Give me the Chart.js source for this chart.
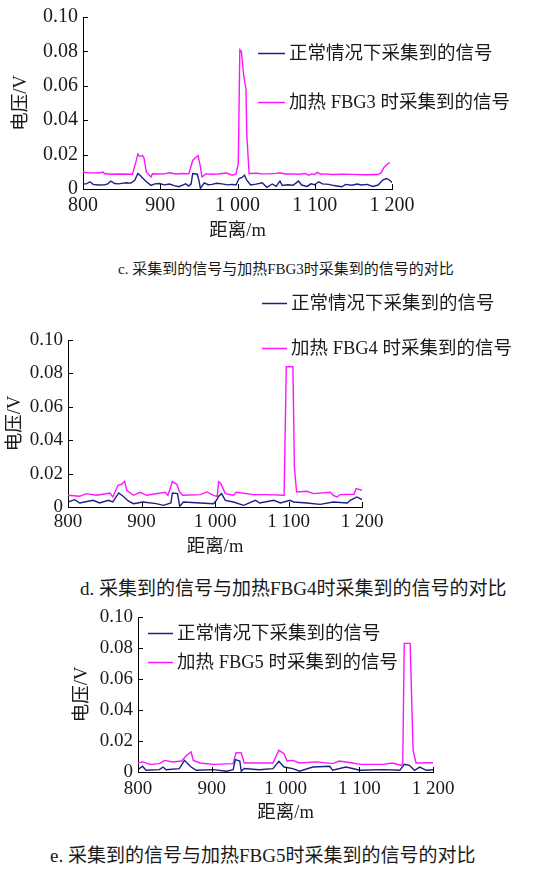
<!DOCTYPE html>
<html>
<head>
<meta charset="utf-8">
<script src="https://cdn.jsdelivr.net/npm/chart.js@4.4.1/dist/chart.umd.min.js"></script>
<style>
  body { margin: 0; background: #fff; }
  #page { position: relative; width: 558px; height: 870px; overflow: hidden; }
  canvas { position: absolute; left: 0; }
  .cap { position: absolute; white-space: nowrap; line-height: 1; color: #1a1a1a;
         font-family: 'Liberation Serif', 'Noto Sans CJK SC', serif; }
</style>
</head>
<body>
<div id="page">
  <canvas id="chartC" width="558" height="250" style="top:0px"></canvas>
  <canvas id="chartD" width="558" height="275" style="top:285px"></canvas>
  <canvas id="chartE" width="558" height="225" style="top:600px"></canvas>
  <div class="cap" style="left:118px; top:262px; font-size:15px">c. 采集到的信号与加热FBG3时采集到的信号的对比</div>
  <div class="cap" style="left:80px; top:579px; font-size:19px">d. 采集到的信号与加热FBG4时采集到的信号的对比</div>
  <div class="cap" style="left:50px; top:846px; font-size:19px">e. 采集到的信号与加热FBG5时采集到的信号的对比</div>
</div>
<script>
// 坐标轴刻度
const xTicks = [800, 900, 1000, 1100, 1200];
const xTickLabels = ['800', '900', '1 000', '1 100', '1 200'];
const yTickLabels = ['0', '0.02', '0.04', '0.06', '0.08', '0.10'];
const seriesNames = ['正常情况下采集到的信号', '加热 FBG3 时采集到的信号', '加热 FBG4 时采集到的信号', '加热 FBG5 时采集到的信号'];

// 图 c
const cNormDist = [800, 805, 809, 813, 820, 828, 832, 836, 841, 846, 850, 856, 862, 867, 871, 875, 882, 888, 893, 899, 905, 912, 918, 924, 929, 933, 937, 940, 942, 948, 950, 952, 957, 962, 967, 973, 980, 987, 993, 998, 1002, 1006, 1009, 1012, 1017, 1024, 1032, 1038, 1045, 1050, 1055, 1058, 1065, 1072, 1079, 1083, 1090, 1095, 1100, 1105, 1110, 1118, 1125, 1135, 1140, 1148, 1155, 1160, 1168, 1175, 1182, 1188, 1193, 1197, 1200];
const cNorm = [0.0029, 0.0031, 0.0042, 0.0027, 0.0023, 0.0024, 0.0030, 0.0046, 0.0032, 0.0030, 0.0033, 0.0036, 0.0034, 0.0051, 0.0090, 0.0074, 0.0042, 0.0021, 0.0030, 0.0032, 0.0024, 0.0029, 0.0020, 0.0013, 0.0023, 0.0030, 0.0017, 0.0030, 0.0090, 0.0086, 0.0051, 0.0004, 0.0036, 0.0025, 0.0027, 0.0033, 0.0030, 0.0024, 0.0027, 0.0023, 0.0061, 0.0067, 0.0080, 0.0051, 0.0023, 0.0028, 0.0036, 0.0010, 0.0029, 0.0015, 0.0046, 0.0020, 0.0025, 0.0022, 0.0046, 0.0023, 0.0015, 0.0030, 0.0025, 0.0042, 0.0030, 0.0027, 0.0020, 0.0013, 0.0027, 0.0022, 0.0029, 0.0023, 0.0027, 0.0015, 0.0023, 0.0052, 0.0061, 0.0051, 0.0038];
const cHeatDist = [800, 810, 821, 826, 828, 830, 834, 850, 864, 869, 871, 873, 877, 879, 882, 888, 890, 898, 905, 912, 920, 930, 937, 942, 946, 949, 952, 954, 959, 968, 975, 985, 990, 993, 998, 1001, 1003, 1005, 1008, 1011, 1012, 1015, 1025, 1030, 1040, 1050, 1055, 1062, 1070, 1080, 1088, 1092, 1096, 1100, 1103, 1108, 1115, 1122, 1135, 1150, 1165, 1182, 1186, 1190, 1197];
const cHeat = [0.0097, 0.0094, 0.0093, 0.0099, 0.0088, 0.0090, 0.0086, 0.0087, 0.0086, 0.0166, 0.0204, 0.0190, 0.0194, 0.0180, 0.0099, 0.0070, 0.0089, 0.0087, 0.0088, 0.0094, 0.0087, 0.0090, 0.0088, 0.0166, 0.0185, 0.0194, 0.0128, 0.0070, 0.0088, 0.0086, 0.0087, 0.0093, 0.0086, 0.0080, 0.0088, 0.0147, 0.0810, 0.0800, 0.0660, 0.0580, 0.0320, 0.0090, 0.0092, 0.0089, 0.0088, 0.0091, 0.0094, 0.0087, 0.0088, 0.0086, 0.0090, 0.0080, 0.0088, 0.0085, 0.0097, 0.0086, 0.0088, 0.0084, 0.0086, 0.0085, 0.0083, 0.0084, 0.0095, 0.0128, 0.0156];

// 图 d
const dNormDist = [800, 809, 816, 834, 843, 855, 861, 869, 875, 882, 889, 902, 920, 930, 940, 942, 949, 952, 957, 980, 998, 1002, 1005, 1009, 1014, 1025, 1039, 1055, 1061, 1080, 1089, 1102, 1107, 1125, 1143, 1161, 1180, 1184, 1193, 1200];
const dNorm = [0.0030, 0.0044, 0.0024, 0.0040, 0.0024, 0.0040, 0.0030, 0.0084, 0.0064, 0.0036, 0.0020, 0.0030, 0.0020, 0.0010, 0.0024, 0.0084, 0.0080, 0.0004, 0.0030, 0.0024, 0.0020, 0.0040, 0.0064, 0.0080, 0.0040, 0.0030, 0.0010, 0.0040, 0.0024, 0.0040, 0.0024, 0.0040, 0.0030, 0.0024, 0.0016, 0.0030, 0.0024, 0.0040, 0.0060, 0.0044];
const dHeatDist = [800, 816, 825, 839, 857, 861, 868, 873, 877, 880, 889, 898, 907, 932, 936, 942, 948, 952, 956, 980, 989, 998, 1003, 1005, 1008, 1011, 1014, 1025, 1029, 1052, 1070, 1094, 1097, 1106, 1108, 1111, 1125, 1134, 1157, 1161, 1166, 1170, 1189, 1192, 1200];
const dHeat = [0.0070, 0.0064, 0.0080, 0.0070, 0.0084, 0.0060, 0.0130, 0.0136, 0.0154, 0.0100, 0.0070, 0.0088, 0.0070, 0.0088, 0.0070, 0.0152, 0.0136, 0.0090, 0.0070, 0.0074, 0.0090, 0.0070, 0.0064, 0.0152, 0.0140, 0.0110, 0.0080, 0.0070, 0.0088, 0.0074, 0.0074, 0.0070, 0.0840, 0.0840, 0.0240, 0.0090, 0.0094, 0.0080, 0.0088, 0.0070, 0.0060, 0.0074, 0.0076, 0.0110, 0.0100];

// 图 e
const eNormDist = [800, 806, 811, 829, 834, 838, 856, 863, 872, 879, 902, 920, 929, 932, 938, 940, 944, 964, 983, 991, 998, 1010, 1019, 1037, 1060, 1064, 1082, 1101, 1132, 1155, 1161, 1168, 1175, 1182, 1191, 1200];
const eNorm = [0.0015, 0.0037, 0.0011, 0.0015, 0.0032, 0.0015, 0.0022, 0.0075, 0.0032, 0.0011, 0.0015, 0.0005, 0.0015, 0.0080, 0.0071, 0.0005, 0.0022, 0.0015, 0.0022, 0.0069, 0.0032, 0.0022, 0.0005, 0.0032, 0.0037, 0.0011, 0.0032, 0.0011, 0.0015, 0.0011, 0.0050, 0.0043, 0.0011, 0.0032, 0.0011, 0.0015];
const eHeatDist = [800, 807, 816, 829, 836, 847, 859, 866, 872, 875, 884, 902, 929, 933, 940, 944, 964, 983, 991, 998, 1002, 1010, 1019, 1042, 1064, 1073, 1091, 1101, 1132, 1145, 1157, 1159, 1161, 1169, 1173, 1177, 1200];
const eHeat = [0.0060, 0.0065, 0.0049, 0.0054, 0.0075, 0.0065, 0.0071, 0.0108, 0.0129, 0.0075, 0.0058, 0.0049, 0.0054, 0.0125, 0.0123, 0.0058, 0.0058, 0.0058, 0.0140, 0.0118, 0.0071, 0.0075, 0.0058, 0.0065, 0.0054, 0.0071, 0.0058, 0.0049, 0.0049, 0.0058, 0.0043, 0.0058, 0.0830, 0.0830, 0.0140, 0.0058, 0.0060];

const FONT = "'Liberation Serif', 'Noto Sans CJK SC', serif";
const TEXT = '#1a1a1a';
Chart.defaults.font.family = FONT;
Chart.defaults.color = TEXT;

const toPoints = (xs, ys) => xs.map((x, i) => ({ x: x, y: ys[i] }));

// 刻度线朝内
const innerTicks = {
  id: 'innerTicks',
  afterDraw(chart) {
    const { ctx, chartArea, scales } = chart;
    ctx.save();
    ctx.strokeStyle = '#000';
    ctx.lineWidth = 1;
    scales.x.ticks.forEach(t => {
      const px = Math.round(scales.x.getPixelForValue(t.value)) + 0.5;
      ctx.beginPath();
      ctx.moveTo(px, chartArea.bottom);
      ctx.lineTo(px, chartArea.bottom - 5);
      ctx.stroke();
    });
    scales.y.ticks.forEach(t => {
      const py = Math.round(scales.y.getPixelForValue(t.value)) + 0.5;
      ctx.beginPath();
      ctx.moveTo(chartArea.left, py);
      ctx.lineTo(chartArea.left + 5, py);
      ctx.stroke();
    });
    ctx.restore();
  }
};

// 图例（自由位置）
const freeLegend = {
  id: 'freeLegend',
  afterDraw(chart, args, opts) {
    const ctx = chart.ctx;
    ctx.save();
    ctx.font = opts.size + 'px ' + FONT;
    ctx.textBaseline = 'middle';
    chart.data.datasets.forEach((ds, i) => {
      const y = opts.y[i] + 0.5;
      ctx.strokeStyle = ds.borderColor;
      ctx.lineWidth = 1.5;
      ctx.beginPath();
      ctx.moveTo(opts.x, y);
      ctx.lineTo(opts.x + opts.len, y);
      ctx.stroke();
      ctx.fillStyle = TEXT;
      ctx.fillText(ds.label, opts.x + opts.len + 4, y + 1);
    });
    ctx.restore();
  }
};

function makeChart(id, normX, normY, heatX, heatY, heatName, lay) {
  return new Chart(document.getElementById(id), {
    type: 'line',
    data: {
      datasets: [
        { label: seriesNames[0], data: toPoints(normX, normY), borderColor: '#1b1f87', borderWidth: 1.4 },
        { label: heatName, data: toPoints(heatX, heatY), borderColor: '#ff14ff', borderWidth: 1.4 }
      ]
    },
    options: {
      responsive: false,
      animation: false,
      elements: { point: { radius: 0 }, line: { tension: 0 } },
      layout: { padding: lay.padding },
      plugins: {
        legend: { display: false },
        tooltip: { enabled: false },
        freeLegend: lay.legend
      },
      scales: {
        x: {
          type: 'linear', min: 800, max: 1200,
          afterFit: s => { s.height = lay.xh; },
          afterBuildTicks: s => { s.ticks = xTicks.map(v => ({ value: v })); },
          ticks: { padding: lay.xpad, font: { size: lay.tick }, color: TEXT, maxRotation: 0,
                   callback: v => xTickLabels[xTicks.indexOf(v)] },
          grid: { display: false, drawTicks: false },
          border: { display: true, color: '#000', width: 1 },
          title: { display: true, text: '距离/m', font: { size: 18.5 }, color: TEXT, padding: { top: 0, bottom: lay.xtitle } }
        },
        y: {
          min: 0, max: 0.1,
          afterFit: s => { s.width = lay.yw; },
          ticks: { stepSize: 0.02, padding: 5, font: { size: lay.tick }, color: TEXT,
                   callback: (v, i) => yTickLabels[i] },
          grid: { display: false, drawTicks: false },
          border: { display: true, color: '#000', width: 1 },
          title: { display: true, text: '电压/V', font: { size: 18.5 }, color: TEXT, padding: { top: lay.ytitle, bottom: 0 } }
        }
      }
    },
    plugins: [innerTicks, freeLegend]
  });
}

makeChart('chartC', cNormDist, cNorm, cHeatDist, cHeat, seriesNames[1], {
  padding: { left: 0, top: 13, right: 166, bottom: 0 },
  xh: 61, yw: 83, xpad: 5, xtitle: 8, ytitle: 10, tick: 20,
  legend: { x: 258, y: [53, 102], len: 27, size: 18.5 }
});

makeChart('chartD', dNormDist, dNorm, dHeatDist, dHeat, seriesNames[2], {
  padding: { left: 0, top: 55, right: 196, bottom: 0 },
  xh: 53, yw: 68, xpad: 4, xtitle: 2, ytitle: 4, tick: 19,
  legend: { x: 262, y: [18, 63], len: 25, size: 18.5 }
});

makeChart('chartE', eNormDist, eNorm, eHeatDist, eHeat, seriesNames[3], {
  padding: { left: 60, top: 17, right: 125, bottom: 0 },
  xh: 53, yw: 78, xpad: 6, xtitle: 1, ytitle: 11, tick: 19,
  legend: { x: 148, y: [33, 62], len: 25, size: 18.5 }
});
</script>
</body>
</html>
